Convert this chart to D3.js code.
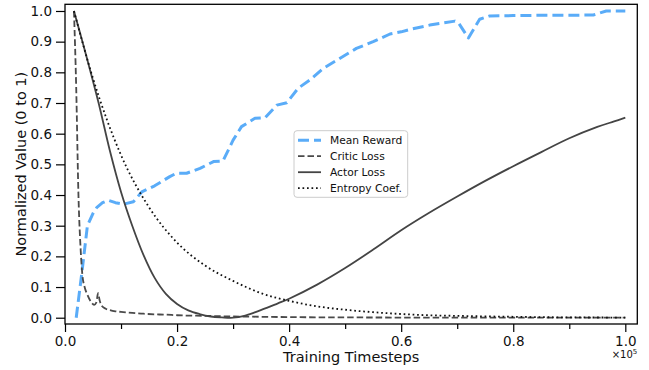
<!DOCTYPE html>
<html>
<head>
<meta charset="utf-8">
<script src="https://cdn.jsdelivr.net/npm/d3@7"></script>
<style>
  body { margin: 0; background: #fff; }
  svg text { font-family: "DejaVu Sans", sans-serif; fill: #111; }
</style>
</head>
<body>
<svg id="chart"></svg>
<script>
// timesteps are raw values, axis shows them scaled by 1e5
const rewardSteps = [2000, 3000, 4000, 5000, 5700, 6700, 7700, 9000, 10400, 12200, 13700, 16000, 18700, 19900,
  21700, 24100, 26500, 28200, 30000, 31500, 33900, 35700, 37800, 39600, 41600, 43700, 46100, 49100, 52000,
  55000, 58000, 60000, 61600, 65100, 69600, 70200, 72000, 74000, 75800, 80000, 85000, 90000, 94300, 96600, 100000];
const meanReward = [0.0, 0.145, 0.30, 0.34, 0.36, 0.375, 0.383, 0.375, 0.37, 0.378, 0.41, 0.43, 0.46, 0.471,
  0.471, 0.487, 0.509, 0.511, 0.579, 0.623, 0.650, 0.652, 0.693, 0.701, 0.748, 0.775, 0.813, 0.846, 0.878,
  0.900, 0.925, 0.932, 0.940, 0.954, 0.967, 0.962, 0.912, 0.973, 0.984, 0.985, 0.986, 0.986, 0.987, 1.0, 1.0];

const criticSteps = [1600, 2000, 2400, 2800, 3100, 3500, 4000, 4700, 5200, 5600, 5900, 6200, 6600, 7200, 8000,
  9000, 10000, 12000, 14000, 16000, 18000, 20000, 25000, 30000, 35000, 40000, 50000, 60000, 80000, 100000];
const criticLoss = [1.0, 0.75, 0.40, 0.22, 0.14, 0.10, 0.075, 0.05, 0.042, 0.05, 0.08, 0.055, 0.038, 0.03, 0.025,
  0.021, 0.019, 0.016, 0.013, 0.011, 0.01, 0.008, 0.006, 0.004, 0.003, 0.002, 0.001, 0.0005, 0.0, 0.0];

const actorSteps = [1600, 4000, 6000, 8000, 10000, 12000, 14000, 16000, 18000, 20000, 22000, 24000, 26000, 28000,
  30000, 32000, 34000, 36000, 38000, 40000, 45000, 50000, 55000, 60000, 65000, 70000, 75000, 80000, 85000,
  90000, 95000, 98000, 100000];
const actorLoss = [1.0, 0.84, 0.70, 0.545, 0.41, 0.30, 0.205, 0.13, 0.078, 0.045, 0.024, 0.012, 0.004, 0.001,
  0.0, 0.006, 0.018, 0.032, 0.047, 0.062, 0.108, 0.162, 0.222, 0.285, 0.342, 0.395, 0.446, 0.494, 0.540,
  0.585, 0.622, 0.64, 0.652];

const entropySteps = [1600, 5000, 10000, 15000, 20000, 25000, 30000, 35000, 40000, 45000, 50000, 55000, 60000,
  65000, 70000, 80000, 90000, 100000];
const entropyCoef = [1.0, 0.78, 0.53, 0.36, 0.245, 0.17, 0.12, 0.08, 0.055, 0.037, 0.026, 0.018, 0.012,
  0.008, 0.006, 0.003, 0.001, 0.0005];

const xMajor = [0, 20000, 40000, 60000, 80000, 100000];
const xMinor = [10000, 30000, 50000, 70000, 90000];
const yTicks = [0, 0.1, 0.2, 0.3, 0.4, 0.5, 0.6, 0.7, 0.8, 0.9, 1.0];

const series = [
  { name: 'Mean Reward', xs: rewardSteps, ys: meanReward, color: '#5aacf8', width: 3, dash: '11,5', curve: d3.curveLinear },
  { name: 'Critic Loss', xs: criticSteps, ys: criticLoss, color: '#4a4a4a', width: 1.8, dash: '6.5,3', curve: d3.curveMonotoneX },
  { name: 'Actor Loss', xs: actorSteps, ys: actorLoss, color: '#444444', width: 1.8, dash: null, curve: d3.curveCatmullRom },
  { name: 'Entropy Coef.', xs: entropySteps, ys: entropyCoef, color: '#111111', width: 1.8, dash: '1.7,2.8', curve: d3.curveMonotoneX }
];

const W = 649, H = 370;
const plotL = 65, plotR = 637.3, plotT = 4.3, plotB = 324;

const svg = d3.select('#chart').attr('width', W).attr('height', H);

const x = d3.scaleLinear().domain([0, 102140]).range([plotL, plotR]);
const y = d3.scaleLinear().domain([-0.0205, 1.0218]).range([plotB, plotT]);

// lines
series.forEach((s) => {
  const pts = s.xs.map((v, i) => [v, s.ys[i]]);
  const line = d3.line().x(d => x(d[0])).y(d => y(d[1])).curve(s.curve);
  svg.append('path')
    .attr('d', line(pts))
    .attr('fill', 'none')
    .attr('stroke', s.color)
    .attr('stroke-width', s.width)
    .attr('stroke-dasharray', s.dash)
    .attr('stroke-linejoin', 'round');
});

// x axis, major + minor
svg.append('g').attr('transform', `translate(0,${plotB})`)
  .call(d3.axisBottom(x).tickValues(xMajor).tickSizeOuter(0).tickSize(8).tickPadding(4)
    .tickFormat(d => (d / 1e5).toFixed(1)));
svg.append('g').attr('transform', `translate(0,${plotB})`)
  .call(d3.axisBottom(x).tickValues(xMinor).tickSizeOuter(0).tickSize(5).tickFormat(''));

svg.append('g').attr('transform', `translate(${plotL},0)`)
  .call(d3.axisLeft(y).tickValues(yTicks).tickSizeOuter(0).tickSize(9).tickPadding(4)
    .tickFormat(d3.format('.1f')));

svg.selectAll('.domain').remove();
svg.selectAll('.tick line').attr('stroke', '#000').attr('stroke-width', 1.2);
svg.selectAll('.tick text').attr('font-size', 13.5).attr('fill', '#111');

// frame
svg.append('rect')
  .attr('x', plotL).attr('y', plotT)
  .attr('width', plotR - plotL).attr('height', plotB - plotT)
  .attr('fill', 'none').attr('stroke', '#000').attr('stroke-width', 1.3);

// labels
svg.append('text')
  .attr('x', (plotL + plotR) / 2).attr('y', 362)
  .attr('text-anchor', 'middle').attr('font-size', 14.5)
  .text('Training Timesteps');

svg.append('text')
  .attr('transform', `translate(26,${(plotT + plotB) / 2}) rotate(-90)`)
  .attr('text-anchor', 'middle').attr('font-size', 14.5)
  .text('Normalized Value (0 to 1)');

const off = svg.append('text')
  .attr('x', plotR).attr('y', 358)
  .attr('text-anchor', 'end').attr('font-size', 10);
off.append('tspan').text('×10');
off.append('tspan').attr('font-size', 7).attr('dy', -4).text('5');

// legend
const lg = svg.append('g').attr('transform', 'translate(294,130.7)');
lg.append('rect')
  .attr('width', 113.7).attr('height', 66.6).attr('rx', 3)
  .attr('fill', '#fff').attr('fill-opacity', 0.8)
  .attr('stroke', '#cccccc').attr('stroke-width', 1);

series.forEach((s, i) => {
  const yy = 9.5 + i * 16;
  lg.append('line')
    .attr('x1', 4).attr('x2', 27).attr('y1', yy).attr('y2', yy)
    .attr('stroke', s.color).attr('stroke-width', s.width)
    .attr('stroke-dasharray', s.dash);
  lg.append('text')
    .attr('x', 36).attr('y', yy + 4)
    .attr('font-size', 10.7)
    .text(s.name);
});
</script>
</body>
</html>
